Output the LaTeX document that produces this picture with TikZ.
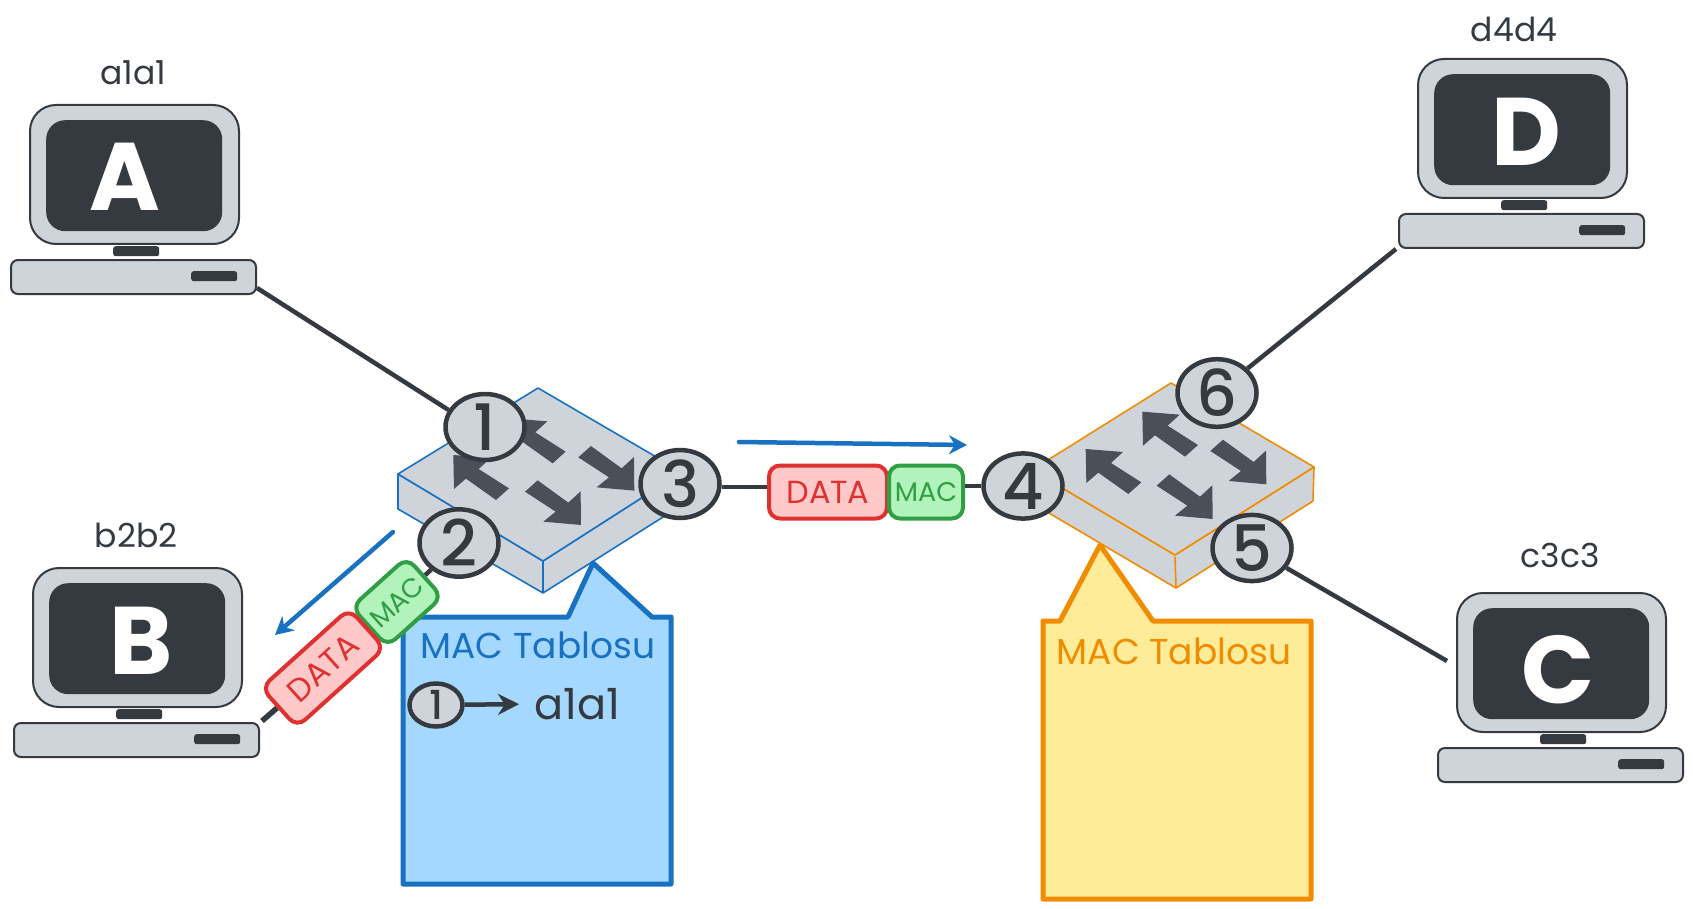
\documentclass[tikz,border=0pt]{standalone}
\usepackage{fontspec}
\usetikzlibrary{shapes.geometric,arrows.meta}
\setmainfont{Poppins}
\newfontfamily\mediumface{Poppins Medium}
\definecolor{ink}{HTML}{343A40}
\definecolor{steel}{HTML}{CED4DA}
\definecolor{arrowgrey}{HTML}{495057}
\definecolor{bluestroke}{HTML}{1971C2}
\definecolor{bluefill}{HTML}{A5D8FF}
\definecolor{orangestroke}{HTML}{F08C00}
\definecolor{yellowfill}{HTML}{FFEC99}
\definecolor{redstroke}{HTML}{E03131}
\definecolor{redfill}{HTML}{FFC9C9}
\definecolor{greenstroke}{HTML}{2F9E44}
\definecolor{greenfill}{HTML}{B2F2BB}
\newcommand{\sized}[1]{\fontsize{#1}{#1}\selectfont}
\tikzset{
  monitorbox/.style={draw=ink,fill=steel,line width=2pt,rounded corners=26pt,minimum width=209pt,minimum height=139pt,inner sep=0pt,anchor=north west},
  screenbox/.style={fill=ink,rounded corners=19pt,minimum width=176pt,minimum height=111pt,inner sep=0pt,anchor=north west},
  darkbar/.style={fill=ink,rounded corners=2.5pt,minimum width=46pt,minimum height=10pt,inner sep=0pt,anchor=north west},
  basebox/.style={draw=ink,fill=steel,line width=2pt,rounded corners=7pt,minimum width=245pt,minimum height=34pt,inner sep=0pt,anchor=north west},
  hostname/.style={text=ink,font=\sized{33}},
  hostletter/.style={text=white,font=\sized{96}\bfseries},
  port/.style={ellipse,draw=ink,fill=steel,line width=4.5pt,minimum width=79pt,minimum height=65pt,inner sep=0pt,text=ink,font=\mediumface\sized{64}},
  smallport/.style={ellipse,draw=ink,fill=steel,line width=4.5pt,minimum width=53pt,minimum height=43pt,inner sep=0pt,text=ink,font=\mediumface\sized{40}},
  link/.style={draw=ink,line width=4.5pt},
  switchedge/.style={line width=1.6pt,fill=steel,line join=round},
  flow/.style={draw=bluestroke,line width=4.5pt,line cap=round,-{Stealth[length=18pt,width=19pt]}},
  callout/.style={line width=5pt,line join=round},
  tabletitle/.style={font=\sized{36}},
  packetred/.style={draw=redstroke,fill=redfill,line width=4pt,rounded corners=11pt,minimum width=118pt,minimum height=53pt,inner sep=0pt,text=redstroke,font=\sized{32}},
  packetgreen/.style={draw=greenstroke,fill=greenfill,line width=4pt,rounded corners=11pt,minimum width=74pt,minimum height=53pt,inner sep=0pt,text=greenstroke,font=\sized{27}},
}
% One computer: #1 id, #2 top-left of the monitor, #3 name position, #4 name, #5 letter position, #6 letter
\newcommand{\computer}[6]{
  \begin{scope}[shift={#2}]
    \node[monitorbox] (monitor-#1) at (0,0) {};
    \node[screenbox] (screen-#1) at (17,16) {};
    \node[darkbar] (stand-#1) at (84,142) {};
    \node[basebox] (base-#1) at (-19,155) {};
    \node[darkbar] (slot-#1) at (162,167) {};
  \end{scope}
  \node[hostname] (name-#1) at #3 {#4};
  \node[hostletter] (letter-#1) at #5 {#6};
}
% Block arrows lying on a switch top
\newcommand{\arrowleft}[1]{\fill[arrowgrey,shift={#1}] (0,0) -- (112,9) -- (76,42) -- (167,100) -- (128,135) -- (38,71) -- (2,102) -- cycle;}
\newcommand{\arrowright}[1]{\fill[arrowgrey,shift={#1}] (0,0) -- (38,-34) -- (130,33) -- (167,-1) -- (168,100) -- (55,90) -- (92,60) -- cycle;}
\begin{document}
\begin{tikzpicture}[x=1pt,y=-1pt]
\useasboundingbox (0,0) rectangle (1693,909);

% Computers
\computer{A}{(29,104)}{(133,73)}{a1a1}{(125,177)}{A}
\computer{B}{(32,567)}{(136,535)}{b2b2}{(141,641)}{B}
\computer{C}{(1456,592)}{(1560,555)}{c3c3}{(1558,670)}{C}
\computer{D}{(1417,58)}{(1514,29)}{d4d4}{(1526,132)}{D}

% Left switch
\path[switchedge,draw=bluestroke] (398,474) -- (398,509) -- (543,593) -- (682,505) -- (682,472) -- (543,561) -- cycle;
\path[switchedge,draw=bluestroke] (538,388) -- (682,472) -- (543,561) -- (398,474) -- cycle;
\draw[line width=1.6pt,bluestroke] (543,561) -- (543,593);
\begin{scope}[shift={(240,370)},x=0.3333pt,y=-0.3333pt]
  \arrowleft{(810,145)}
  \arrowleft{(640,255)}
  \arrowright{(1015,262)}
  \arrowright{(855,365)}
\end{scope}

% Right switch
\path[switchedge,draw=orangestroke] (1032,470) -- (1032,503) -- (1176,588) -- (1313,501) -- (1314,467) -- (1175,555) -- cycle;
\path[switchedge,draw=orangestroke] (1171,383) -- (1314,467) -- (1175,555) -- (1032,470) -- cycle;
\draw[line width=1.6pt,orangestroke] (1175,557) -- (1176,588);
\begin{scope}[shift={(1020,360)},x=0.3333pt,y=-0.3333pt]
  \arrowleft{(197,267)}
  \arrowleft{(367,155)}
  \arrowright{(410,377)}
  \arrowright{(571,273)}
\end{scope}

% MAC tables
\draw[callout,draw=bluestroke,fill=bluefill] (403,617) -- (568,617) -- (593,563) -- (652,617) -- (671,617) -- (671,884) -- (403,884) -- cycle;
\node[tabletitle,text=bluestroke] (tableA) at (538,645) {MAC Tablosu};
\draw[callout,draw=orangestroke,fill=yellowfill] (1043,621) -- (1060,621) -- (1100,545) -- (1153,621) -- (1311,621) -- (1311,899) -- (1043,899) -- cycle;
\node[tabletitle,text=orangestroke] (tableB) at (1174,651) {MAC Tablosu};
\node[smallport] (entry1) at (436,705) {1};
\node[text=ink,font=\sized{43},inner sep=0pt] (entryhost) at (577,704) {a1a1};
\draw[draw=ink,line width=4.5pt,-{Stealth[length=21pt,width=21pt]},shorten >=15pt] (entry1) -- (entryhost.west);

% Switch ports
\node[port] (p1) at (485,427) {1};
\node[port] (p2) at (459,543) {2};
\node[port] (p3) at (680,484) {3};
\node[port] (p4) at (1023,486) {4};
\node[port] (p5) at (1252,548) {5};
\node[port] (p6) at (1217,393) {6};

% Packets on the wire
\node[packetgreen,rotate=42] (macB) at (397,602) {MAC};
\node[packetred,rotate=42] (dataB) at (323,668) {DATA};
\node[packetred] (dataH) at (828,492) {DATA};
\node[packetgreen] (macH) at (926,492) {MAC};

% Cable ends beside the computers
\coordinate (linkA) at (257,288);
\coordinate (linkB) at (262,721);
\coordinate (linkC) at (1447,661);
\coordinate (linkD) at (1396,249);
\coordinate (wire3) at ([yshift=-3pt]p3.east);

% Cables
\draw[link] (linkA) -- (p1.155);
\draw[link] (macB) -- (p2);
\draw[link,line width=5.5pt] (linkB) -- (dataB);
\draw[link] (wire3) -- (wire3 -| dataH.west);
\draw[link] (macH.east |- p4.west) -- (p4.west);
\draw[link] (p5) -- (linkC);
\draw[link] (p6) -- (linkD);

% Direction of travel
\coordinate (flowAfrom) at (393,532);
\coordinate (flowAto) at (275,635);
\coordinate (flowBfrom) at (739,442);
\coordinate (flowBto) at (967,445);
\draw[flow] (flowAfrom) -- (flowAto);
\draw[flow] (flowBfrom) -- (flowBto);
\end{tikzpicture}
\end{document}
